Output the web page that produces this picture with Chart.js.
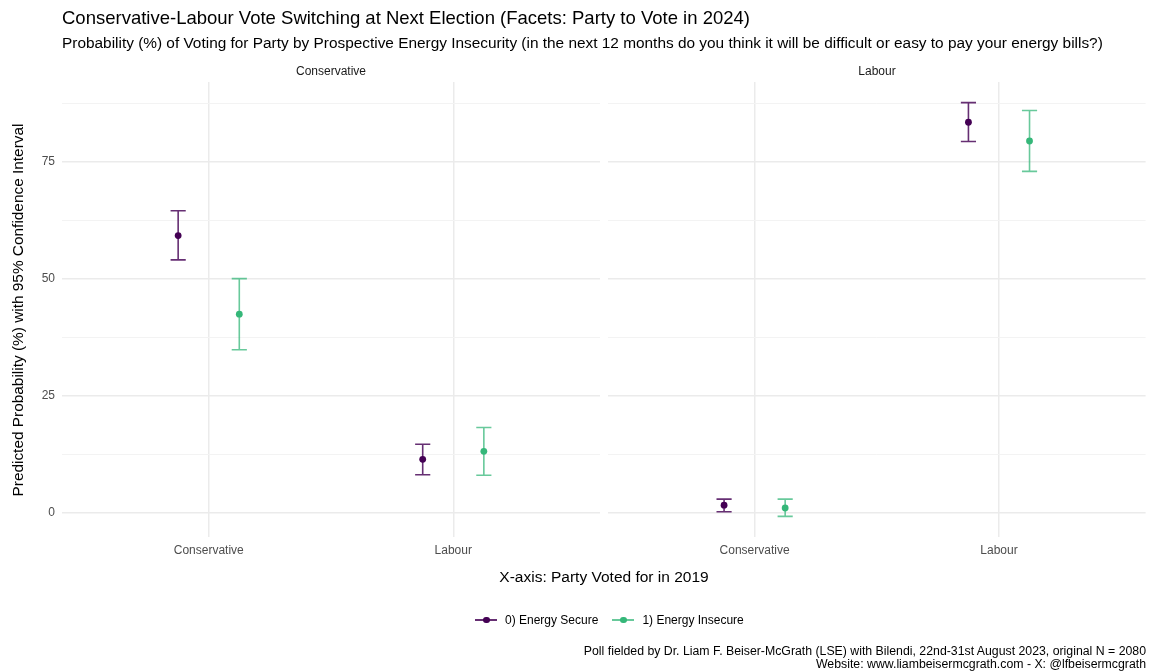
<!DOCTYPE html>
<html>
<head>
<meta charset="utf-8">
<script src="https://cdn.jsdelivr.net/npm/chart.js@4.4.1/dist/chart.umd.min.js"></script>
<style>
  html, body { margin: 0; padding: 0; background: #ffffff; }
  #wrap { position: relative; width: 1149px; height: 672px; overflow: hidden; background: #ffffff;
          font-family: 'Liberation Sans', Arial, Helvetica, sans-serif; }
  canvas { position: absolute; top: 0; }
  .txt { position: absolute; white-space: nowrap; line-height: 1; font-weight: normal; }
  #title { left: 62px; top: 9px; font-size: 18.5px; color: #000; }
  #subtitle { left: 62px; top: 35px; font-size: 15.4px; color: #000; }
  .strip { top: 65px; font-size: 12px; color: #1a1a1a; transform: translateX(-50%); }
  #xtitle { left: 604px; top: 569px; font-size: 15.5px; color: #000; transform: translateX(-50%); }
  #ytitle { left: -182px; top: 302px; width: 400px; height: 16px; text-align: center; font-size: 15.4px;
            color: #000; transform: rotate(-90deg); transform-origin: 200px 8px; }
  #legend { left: 475px; top: 613px; font-size: 12px; color: #000; display: flex; align-items: center; }
  .key { position: relative; width: 22px; height: 14px; margin-right: 8px; }
  .key .ln { position: absolute; left: 0; right: 0; top: 6px; height: 1.6px; }
  .key .dt { position: absolute; left: 8px; top: 3.5px; width: 6.5px; height: 6.5px; border-radius: 50%; }
  .item { display: flex; align-items: center; margin-right: 14px; }
  #caption { right: 3px; top: 645px; font-size: 12.3px; color: #000; text-align: right; line-height: 13px; }
</style>
</head>
<body>
<div id="wrap">
  <canvas id="panelCon" width="604" height="672" style="left:0px;width:604px;height:672px"></canvas>
  <canvas id="panelLab" width="545" height="672" style="left:604px;width:545px;height:672px"></canvas>

  <div class="txt" id="title">Conservative-Labour Vote Switching at Next Election (Facets: Party to Vote in 2024)</div>
  <div class="txt" id="subtitle">Probability (%) of Voting for Party by Prospective Energy Insecurity (in the next 12 months do you think it will be difficult or easy to pay your energy bills?)</div>
  <div class="txt strip" id="stripCon" style="left:331px"></div>
  <div class="txt strip" id="stripLab" style="left:877px"></div>
  <div class="txt" id="xtitle">X-axis: Party Voted for in 2019</div>
  <div class="txt" id="ytitle">Predicted Probability (%) with 95% Confidence Interval</div>
  <div class="txt" id="legend"></div>
  <div class="txt" id="caption">Poll fielded by Dr. Liam F. Beiser-McGrath (LSE) with Bilendi, 22nd-31st August 2023, original N = 2080<br>Website: www.liambeisermcgrath.com - X: @lfbeisermcgrath</div>
</div>

<script>
// Facets: party intended for 2024; x categories: party voted for in 2019
const facets = ['Conservative', 'Labour'];
const parties2019 = ['Conservative', 'Labour'];
const groups = ['0) Energy Secure', '1) Energy Insecure'];

// y axis breaks (labelled) and minor breaks
const yBreaks = [0, 25, 50, 75];
const yMinorBreaks = [12.5, 37.5, 62.5, 87.5];

// Facet "Conservative": estimate, lower and upper bound per 2019 party
const conSecureEst   = [59.2, 11.4];
const conSecureLo    = [54.0, 8.1];
const conSecureHi    = [64.5, 14.6];
const conInsecureEst = [42.4, 13.1];
const conInsecureLo  = [34.8, 8.0];
const conInsecureHi  = [50.0, 18.2];

// Facet "Labour"
const labSecureEst   = [1.6, 83.4];
const labSecureLo    = [0.2, 79.3];
const labSecureHi    = [2.9, 87.6];
const labInsecureEst = [1.0, 79.4];
const labInsecureLo  = [-0.8, 72.9];
const labInsecureHi  = [2.9, 85.9];

const pointColors = ['#440154', '#35b779'];
const barColors = ['rgba(68,1,84,0.82)', 'rgba(53,183,121,0.75)'];
const dodge = [-0.125, 0.125];
const capHalf = 0.031;
const FONT = "'Liberation Sans', Arial, Helvetica, sans-serif";

// strip labels and legend
document.getElementById('stripCon').textContent = facets[0];
document.getElementById('stripLab').textContent = facets[1];
const legend = document.getElementById('legend');
groups.forEach((g, i) => {
  const item = document.createElement('div');
  item.className = 'item';
  item.innerHTML = '<span class="key"><span class="ln" style="background:' + barColors[i] +
    '"></span><span class="dt" style="background:' + pointColors[i] + '"></span></span><span>' + g + '</span>';
  legend.appendChild(item);
});

// draws the confidence-interval whiskers beneath the points
const errorBars = {
  id: 'errorBars',
  beforeDatasetsDraw(chart) {
    const { ctx, scales: { x, y } } = chart;
    ctx.save();
    ctx.lineWidth = 1.6;
    chart.data.datasets.forEach((ds) => {
      ctx.strokeStyle = ds.barColor;
      ds.data.forEach((p, i) => {
        const px = x.getPixelForValue(p.x);
        const pl = x.getPixelForValue(p.x - capHalf);
        const pr = x.getPixelForValue(p.x + capHalf);
        const yl = y.getPixelForValue(ds.lo[i]);
        const yh = y.getPixelForValue(ds.hi[i]);
        ctx.beginPath();
        ctx.moveTo(px, yl); ctx.lineTo(px, yh);
        ctx.moveTo(pl, yl); ctx.lineTo(pr, yl);
        ctx.moveTo(pl, yh); ctx.lineTo(pr, yh);
        ctx.stroke();
      });
    });
    ctx.restore();
  }
};

function series(est, lo, hi, g) {
  return {
    label: groups[g],
    data: est.map((v, i) => ({ x: i + 1 + dodge[g], y: v })),
    lo: lo, hi: hi,
    barColor: barColors[g],
    backgroundColor: pointColors[g],
    borderWidth: 0,
    pointRadius: 3.4,
    pointHoverRadius: 3.4
  };
}

function makePanel(id, datasets, showY, padding) {
  const isMajor = (v) => yBreaks.includes(v);
  new Chart(document.getElementById(id), {
    type: 'scatter',
    data: { datasets },
    plugins: [errorBars],
    options: {
      responsive: false,
      animation: false,
      events: [],
      layout: { padding },
      plugins: { legend: { display: false }, tooltip: { enabled: false } },
      scales: {
        x: {
          type: 'linear', min: 0.4, max: 2.6,
          afterBuildTicks: (s) => { s.ticks = parties2019.map((_, i) => ({ value: i + 1 })); },
          afterFit: (s) => { s.height = 30; },
          border: { display: false },
          grid: { color: '#ebebeb', lineWidth: 1.5, drawTicks: false },
          ticks: {
            autoSkip: false, maxRotation: 0, padding: 6,
            color: '#4d4d4d', font: { family: FONT, size: 12 },
            callback: (v) => parties2019[Math.round(v) - 1]
          }
        },
        y: {
          type: 'linear', min: -5.2, max: 92.0,
          afterBuildTicks: (s) => {
            s.ticks = yBreaks.concat(yMinorBreaks).sort((a, b) => a - b).map(v => ({ value: v }));
          },
          afterFit: (s) => { s.width = showY ? 62 : 0; },
          border: { display: false },
          grid: {
            drawTicks: false,
            color: (c) => isMajor(c.tick.value) ? '#ebebeb' : '#f3f3f3',
            lineWidth: (c) => isMajor(c.tick.value) ? 1.5 : 1
          },
          ticks: {
            display: showY, padding: 7,
            color: '#4d4d4d', font: { family: FONT, size: 12 },
            callback: (v) => isMajor(v) ? String(v) : ''
          }
        }
      }
    }
  });
}

makePanel('panelCon', [
  series(conSecureEst, conSecureLo, conSecureHi, 0),
  series(conInsecureEst, conInsecureLo, conInsecureHi, 1)
], true, { top: 82, bottom: 105, left: 0, right: 4 });

makePanel('panelLab', [
  series(labSecureEst, labSecureLo, labSecureHi, 0),
  series(labInsecureEst, labInsecureLo, labInsecureHi, 1)
], false, { top: 82, bottom: 105, left: 4, right: 3 });
</script>
</body>
</html>
